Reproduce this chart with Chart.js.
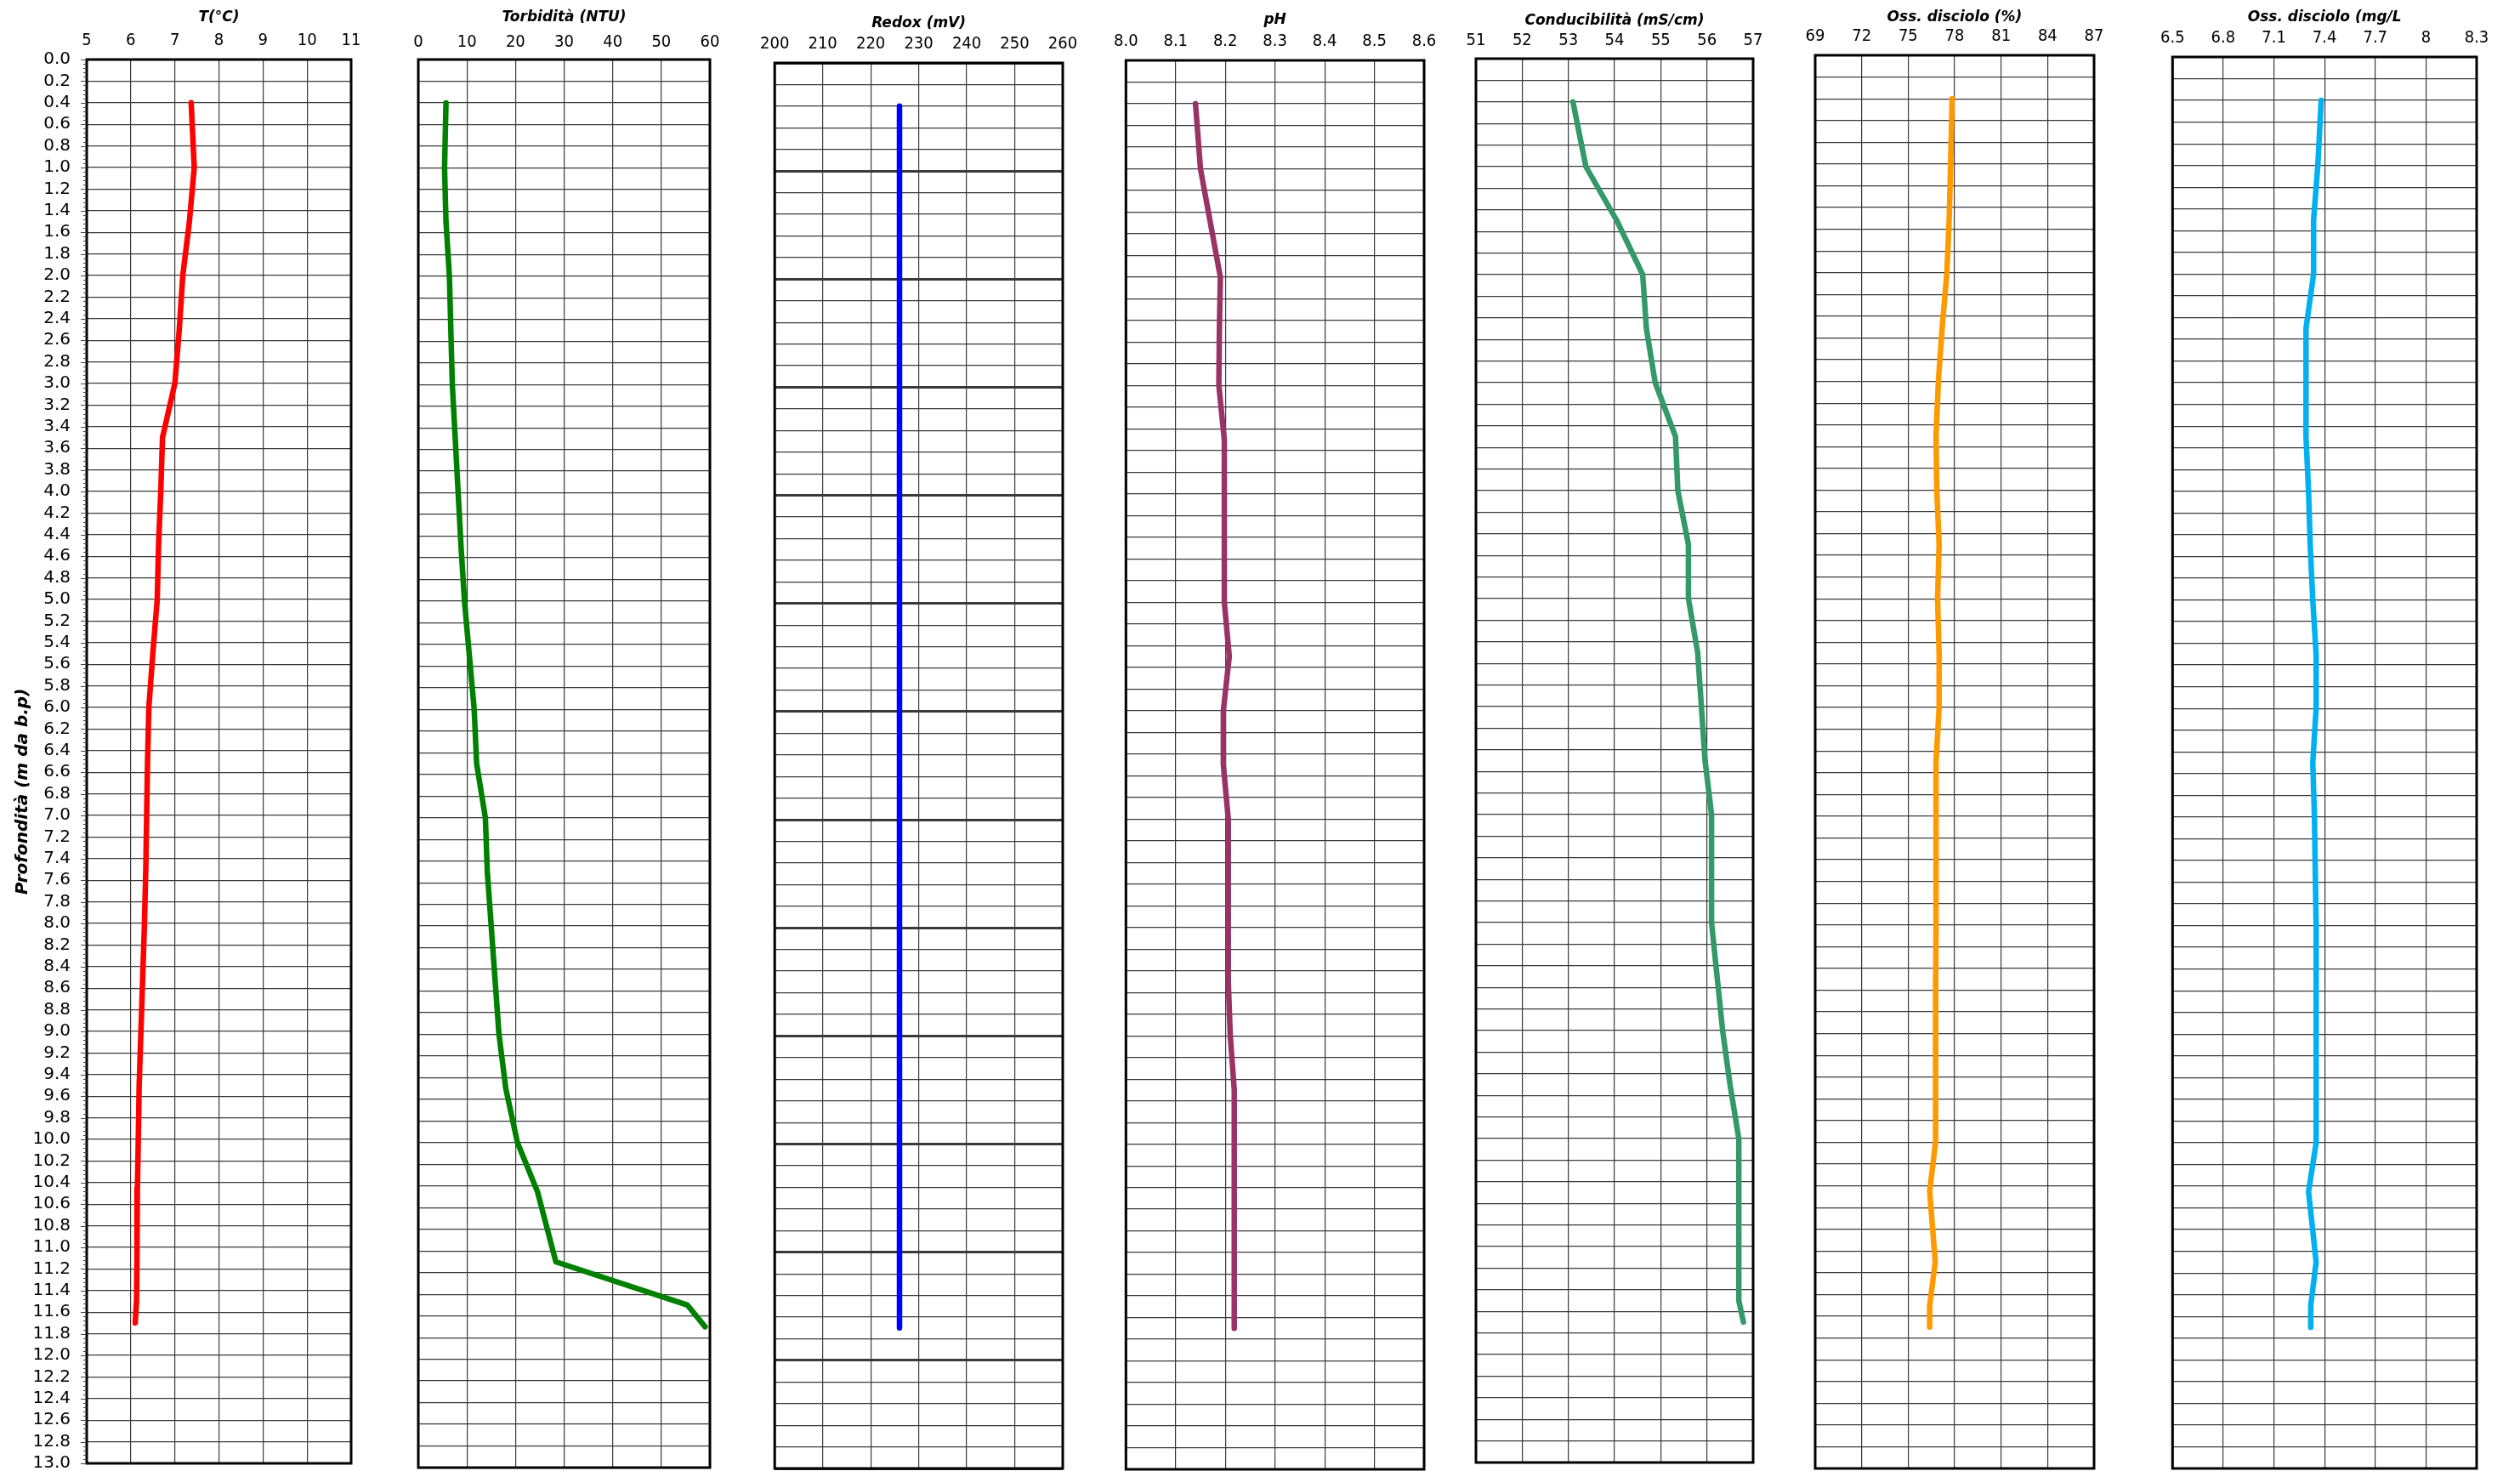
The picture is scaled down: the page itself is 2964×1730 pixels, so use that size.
<!DOCTYPE html>
<html>
<head>
<meta charset="utf-8">
<script src="https://cdn.jsdelivr.net/npm/chart.js"></script>
<style>
html, body { margin: 0; padding: 0; background: #fff; overflow: hidden; }
#wrap { position: relative; width: 2964px; height: 1730px; }
.box { position: absolute; top: 0; height: 1760px; }
</style>
</head>
<body>
<div id="wrap"></div>
<script>
// profondità dei punti di misura (m da b.p)
const depths = [0.4, 1.0, 1.5, 2.0, 2.5, 3.0, 3.5, 4.0, 4.5, 5.0, 5.5, 6.0, 6.5, 7.0, 7.5, 8.0, 8.5, 9.0, 9.5, 10.0, 10.45, 11.1, 11.5, 11.7];

const temperatura = [7.37, 7.44, 7.33, 7.18, 7.10, 7.00, 6.72, 6.68, 6.63, 6.60, 6.50, 6.41, 6.38, 6.36, 6.34, 6.31, 6.27, 6.23, 6.19, 6.17, 6.15, 6.14, 6.13, 6.10];
const torbidita = [5.7, 5.4, 5.7, 6.4, 6.7, 7.0, 7.6, 8.2, 8.8, 9.5, 10.5, 11.5, 12.0, 13.8, 14.2, 15.0, 15.8, 16.6, 18.0, 20.4, 24.5, 28.3, 55.4, 59.0];
const redox = [226, 226, 226, 226, 226, 226, 226, 226, 226, 226, 226, 226, 226, 226, 226, 226, 226, 226, 226, 226, 226, 226, 226, 226];
const ph = [8.140, 8.150, 8.170, 8.190, 8.188, 8.187, 8.198, 8.198, 8.198, 8.198, 8.208, 8.196, 8.196, 8.206, 8.206, 8.206, 8.206, 8.210, 8.218, 8.218, 8.218, 8.218, 8.218, 8.218];
const conducibilita = [53.10, 53.38, 54.05, 54.61, 54.69, 54.88, 55.32, 55.37, 55.60, 55.60, 55.80, 55.88, 55.96, 56.10, 56.10, 56.10, 56.22, 56.34, 56.50, 56.69, 56.69, 56.69, 56.69, 56.79];
const ossPerc = [77.84, 77.74, 77.65, 77.50, 77.20, 76.95, 76.80, 76.85, 77.00, 76.90, 77.00, 77.00, 76.80, 76.80, 76.80, 76.80, 76.78, 76.77, 76.77, 76.77, 76.39, 76.75, 76.39, 76.39];
const ossMg = [7.38, 7.36, 7.335, 7.335, 7.29, 7.29, 7.29, 7.305, 7.315, 7.33, 7.35, 7.35, 7.33, 7.34, 7.345, 7.35, 7.35, 7.35, 7.35, 7.35, 7.305, 7.35, 7.318, 7.318];

// etichette degli assi
const tickT = ['5', '6', '7', '8', '9', '10', '11'];
const tickTorb = ['0', '10', '20', '30', '40', '50', '60'];
const tickRedox = ['200', '210', '220', '230', '240', '250', '260'];
const tickPh = ['8.0', '8.1', '8.2', '8.3', '8.4', '8.5', '8.6'];
const tickCond = ['51', '52', '53', '54', '55', '56', '57'];
const tickOssP = ['69', '72', '75', '78', '81', '84', '87'];
const tickOssMg = ['6.5', '6.8', '7.1', '7.4', '7.7', '8', '8.3'];
const depthTicks = [];
for (let d = 0; d <= 65; d++) depthTicks.push((d * 0.2).toFixed(1));

const condFont = "'DejaVu Sans Condensed', 'DejaVu Sans', sans-serif";
const wideFont = "'DejaVu Sans', Verdana, sans-serif";

const panels = [
    { title: 'T(°C)', values: temperatura, ticks: tickT, color: '#ff0000', left: 102, right: 413, top: 70, bottom: 1721, titleY: 21, tickY: 48, axis: true },
    { title: 'Torbidità (NTU)', values: torbidita, ticks: tickTorb, color: '#008000', left: 492, right: 835, top: 70, bottom: 1726, titleY: 21, tickY: 50 },
    { title: 'Redox (mV)', values: redox, ticks: tickRedox, color: '#0000ff', left: 908, right: 1250, top: 74, bottom: 1727, titleY: 28, tickY: 52, thick: true },
    { title: 'pH', values: ph, ticks: tickPh, color: '#993366', left: 1324, right: 1675, top: 71, bottom: 1728, titleY: 24, tickY: 49 },
    { title: 'Conducibilità (mS/cm)', values: conducibilita, ticks: tickCond, color: '#339966', left: 1736, right: 2062, top: 69, bottom: 1720, titleY: 25, tickY: 48 },
    { title: 'Oss. disciolo (%)', values: ossPerc, ticks: tickOssP, color: '#ff9900', left: 2135, right: 2463, top: 65, bottom: 1727, titleY: 21, tickY: 43 },
    { title: 'Oss. disciolo (mg/L', values: ossMg, ticks: tickOssMg, color: '#00b0f0', left: 2555, right: 2913, top: 67, bottom: 1727, titleY: 21, tickY: 45 }
];

// cornice nera attorno all'area del grafico
const frame = {
    id: 'frame',
    beforeDatasetsDraw(chart) {
        const a = chart.chartArea, c = chart.ctx;
        c.save();
        c.strokeStyle = '#000';
        c.lineWidth = 3;
        c.strokeRect(a.left, a.top, a.right - a.left, a.bottom - a.top);
        c.restore();
    }
};

// tacche secondarie e titolo asse profondità (solo primo pannello)
const depthAxis = {
    id: 'depthAxis',
    afterDraw(chart) {
        const c = chart.ctx, y = chart.scales.y, left = chart.chartArea.left;
        c.save();
        c.strokeStyle = '#444';
        c.lineWidth = 1;
        for (let k = 0; k <= 325; k++) {
            const py = Math.round(y.getPixelForValue(k * 0.04)) + 0.5;
            const len = k % 5 === 0 ? 7 : 4;
            c.beginPath();
            c.moveTo(left - len, py);
            c.lineTo(left, py);
            c.stroke();
        }
        c.translate(27, 931);
        c.rotate(-Math.PI / 2);
        c.fillStyle = '#000';
        c.font = "italic bold 20px " + wideFont;
        c.textAlign = 'center';
        c.textBaseline = 'middle';
        c.fillText('Profondità (m da b.p)', 0, 0);
        c.restore();
    }
};

const wrap = document.getElementById('wrap');

panels.forEach(p => {
    const leftSpace = p.axis ? p.left : 24;
    const rightSpace = 34;
    const div = document.createElement('div');
    div.className = 'box';
    div.style.left = (p.left - leftSpace) + 'px';
    div.style.width = (p.right - p.left + leftSpace + rightSpace) + 'px';
    const cv = document.createElement('canvas');
    div.appendChild(cv);
    wrap.appendChild(div);

    const xv = p.ticks.map(Number);
    const points = depths.map((d, k) => ({ x: p.values[k], y: d }));

    new Chart(cv, {
        type: 'scatter',
        data: {
            datasets: [{
                data: points,
                showLine: true,
                borderColor: p.color,
                borderWidth: 6.5,
                borderCapStyle: 'round',
                borderJoinStyle: 'round',
                pointRadius: 0,
                pointHoverRadius: 0
            }]
        },
        options: {
            responsive: true,
            maintainAspectRatio: false,
            animation: false,
            layout: { padding: { top: 0, left: 0, right: rightSpace, bottom: 1760 - p.bottom } },
            plugins: { legend: { display: false }, tooltip: { enabled: false } },
            scales: {
                x: {
                    type: 'linear',
                    position: 'top',
                    min: xv[0],
                    max: xv[xv.length - 1],
                    afterBuildTicks: s => { s.ticks = xv.map(v => ({ value: v })); },
                    afterFit: s => { s.height = p.top; },
                    ticks: {
                        autoSkip: false,
                        maxRotation: 0,
                        padding: p.top - p.tickY - 12,
                        color: '#000',
                        font: { family: condFont, size: 20 },
                        callback: (v, k) => p.ticks[k]
                    },
                    grid: { color: '#3a3a3a', lineWidth: 1.2, drawTicks: false },
                    border: { display: false },
                    title: {
                        display: true,
                        text: p.title,
                        color: '#000',
                        font: { family: wideFont, size: 17, weight: 'bold', style: 'italic' },
                        padding: { top: p.titleY - 10.2, bottom: 0 }
                    }
                },
                y: {
                    type: 'linear',
                    reverse: true,
                    min: 0,
                    max: 13,
                    afterBuildTicks: s => { s.ticks = depthTicks.map(t => ({ value: parseFloat(t) })); },
                    afterFit: s => { s.width = leftSpace; },
                    ticks: {
                        display: !!p.axis,
                        autoSkip: false,
                        padding: 19,
                        color: '#000',
                        font: { family: wideFont, size: 20 },
                        callback: (v, k) => depthTicks[k]
                    },
                    grid: {
                        drawTicks: false,
                        color: '#3a3a3a',
                        lineWidth: c => (p.thick && c.tick && Math.abs(c.tick.value - Math.round(c.tick.value)) < 1e-6) ? 3 : 1.2
                    },
                    border: { display: false }
                }
            }
        },
        plugins: p.axis ? [frame, depthAxis] : [frame]
    });
});
</script>
</body>
</html>
